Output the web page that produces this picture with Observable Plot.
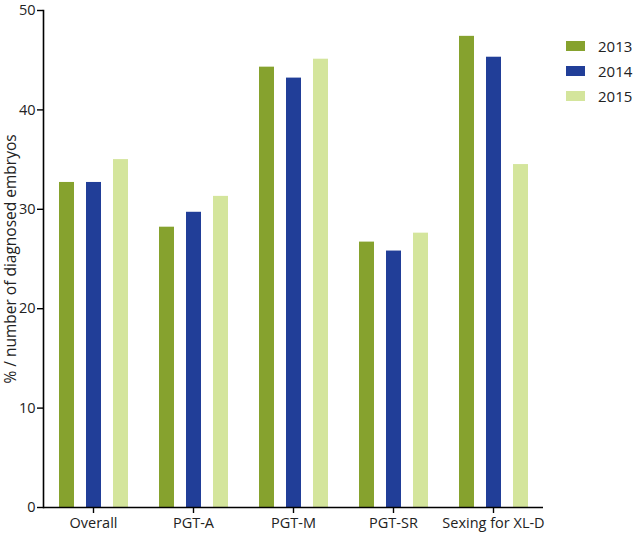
<!DOCTYPE html>
<html>
<head>
<meta charset="utf-8">
<script src="https://cdn.jsdelivr.net/npm/d3@7"></script>
<script src="https://cdn.jsdelivr.net/npm/@observablehq/plot@0.6"></script>
<style>
  html, body { margin: 0; padding: 0; background: #fff; }
  #wrap { position: relative; width: 633px; height: 534px; font-family: "Open Sans", sans-serif; }
  #legend { position: absolute; left: 566px; top: 33px; font-size: 15px; color: #222; }
  .item { display: flex; align-items: center; height: 25px; }
  .sw { width: 19px; height: 10px; margin-right: 13px; }
  svg text { font-size: 14.5px; }
  svg g[aria-label="y-axis label"] text { font-size: 15.5px; }
</style>
</head>
<body>
<div id="wrap"><div id="legend"></div></div>
<script>
const categories = ["Overall", "PGT-A", "PGT-M", "PGT-SR", "Sexing for XL-D"];
const years = ["2013", "2014", "2015"];
const v2013 = [32.7, 28.2, 44.3, 26.7, 47.4];
const v2014 = [32.7, 29.7, 43.2, 25.8, 45.3];
const v2015 = [35.0, 31.3, 45.1, 27.6, 34.5];
const colors = ["#86a22e", "#213e98", "#d4e59c"];
const yTicks = [0, 10, 20, 30, 40, 50];
const yLabel = "% / number of diagnosed embryos";

const series = [v2013, v2014, v2015];
const data = [];
categories.forEach((c, i) => years.forEach((y, j) => data.push({cat: c, year: y, value: series[j][i]})));

const plot = Plot.plot({
  width: 633,
  height: 534,
  marginLeft: 42,
  marginRight: 89,
  marginTop: 10,
  marginBottom: 27,
  style: {fontFamily: "Open Sans, sans-serif", fontSize: "14.5px", color: "#222"},
  fx: {domain: categories, paddingInner: 0, paddingOuter: 0, label: null},
  x: {domain: years, paddingInner: 0.4545, paddingOuter: 0.553, axis: null},
  y: {domain: [0, 50], label: null},
  color: {domain: years, range: colors},
  marks: [
    Plot.barY(data, {fx: "cat", x: "year", y: "value", fill: "year"}),
    Plot.ruleY([0], {stroke: "#000", strokeWidth: 1.6}),
    Plot.frame({anchor: "left", facet: "super", stroke: "#000", strokeWidth: 1.6}),
    Plot.axisY({ticks: yTicks, tickSize: 6, tickPadding: 2, stroke: "#000", strokeWidth: 1.4,
      label: yLabel, labelAnchor: "center", labelArrow: "none", labelOffset: 39}),
    Plot.axisFx({anchor: "bottom", tickSize: 6, tickPadding: 4, stroke: "#000", strokeWidth: 1.4, label: null})
  ]
});
const wrap = document.getElementById("wrap");
wrap.insertBefore(plot, wrap.firstChild);

const legend = document.getElementById("legend");
years.forEach((y, j) => {
  const item = document.createElement("div");
  item.className = "item";
  const sw = document.createElement("div");
  sw.className = "sw";
  sw.style.background = colors[j];
  const t = document.createElement("span");
  t.textContent = y;
  item.appendChild(sw);
  item.appendChild(t);
  legend.appendChild(item);
});
</script>
</body>
</html>
